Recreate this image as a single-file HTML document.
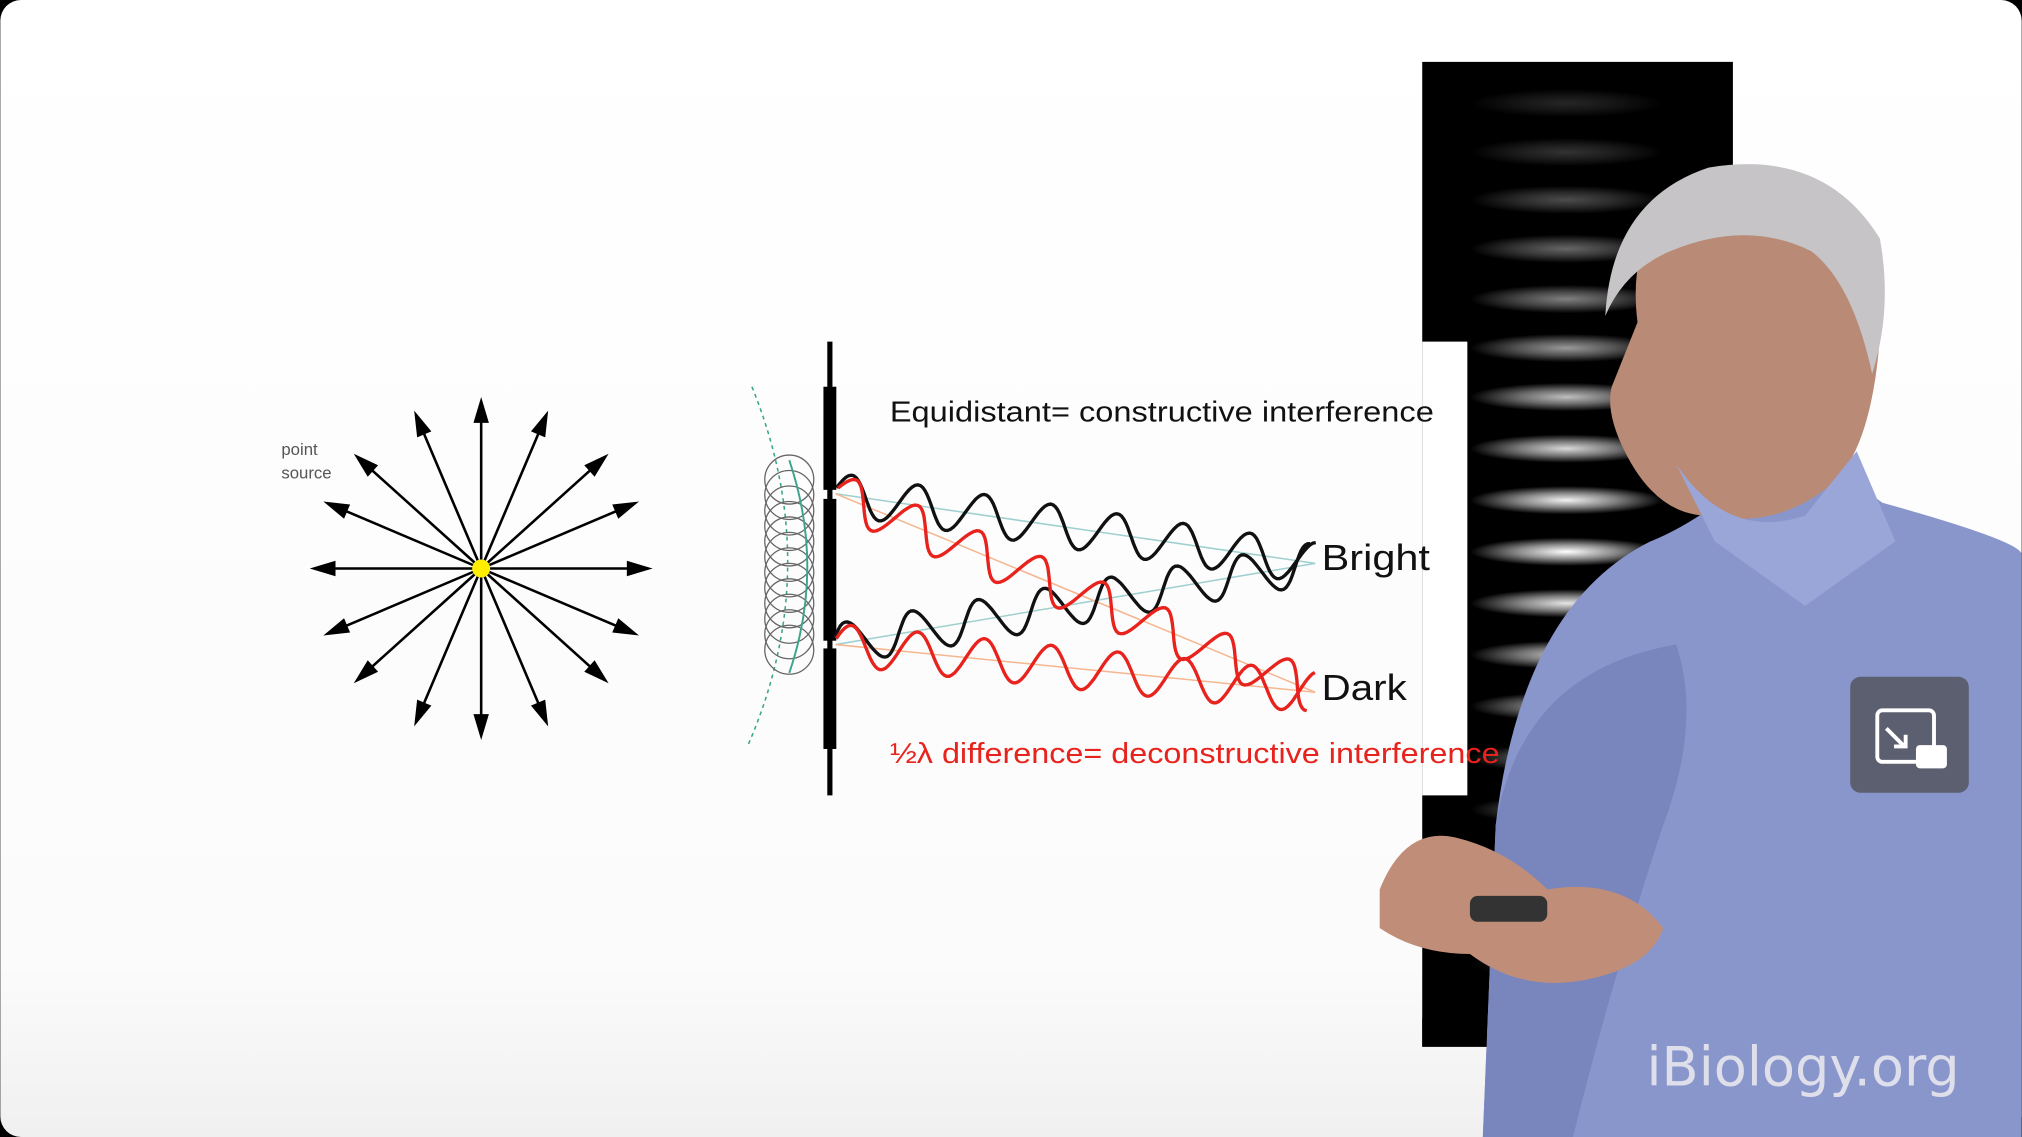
<!DOCTYPE html>
<html><head><meta charset="utf-8">
<style>
html,body{margin:0;padding:0;background:#000;}
svg{display:block;}
</style></head>
<body>
<svg id="scene" width="2022" height="1137" viewBox="0 0 1568 882" xmlns="http://www.w3.org/2000/svg">
<defs>
<radialGradient id="fr" cx="0.5" cy="0.5" r="0.5">
<stop offset="0" stop-color="#fff" stop-opacity="1"/>
<stop offset="0.5" stop-color="#fff" stop-opacity="0.55"/>
<stop offset="1" stop-color="#fff" stop-opacity="0"/>
</radialGradient>
<linearGradient id="bg" x1="0" y1="0" x2="0" y2="1">
<stop offset="0" stop-color="#ffffff"/><stop offset="0.85" stop-color="#fbfbfb"/><stop offset="1" stop-color="#f0f0f0"/>
</linearGradient>
</defs>
<rect x="0" y="0" width="1568" height="882" rx="16" fill="url(#bg)"/>

<g>
<rect x="1103" y="48" width="241" height="764" fill="#000"/>
<g id="fringes"></g>
</g>
<rect x="1103" y="265" width="35" height="352" fill="#fff"/>

<g id="star"></g>
<text x="218" y="353" font-family="Liberation Sans, sans-serif" font-size="13" fill="#555">point</text>
<text x="218" y="371" font-family="Liberation Sans, sans-serif" font-size="13" fill="#555">source</text>

<g>
<path d="M583,300 Q640,440 580,578" fill="none" stroke="#3aa58a" stroke-width="1.2" stroke-dasharray="3,3"/>
<g id="circles" fill="none" stroke="#666" stroke-width="1"></g>
<path d="M612,357 Q640,440 612,522" fill="none" stroke="#3aa58a" stroke-width="1.5"/>
<rect x="641.5" y="265" width="4" height="352" fill="#000"/>
<rect x="638.5" y="300" width="10" height="80" fill="#000"/>
<rect x="638.5" y="387" width="10" height="110" fill="#000"/>
<rect x="638.5" y="503" width="10" height="78" fill="#000"/>
<line x1="648" y1="383" x2="1020" y2="437" stroke="#9fd0cf" stroke-width="1.2"/>
<line x1="648" y1="500" x2="1020" y2="437" stroke="#9fd0cf" stroke-width="1.2"/>
<line x1="648" y1="383" x2="1020" y2="537" stroke="#f6b690" stroke-width="1.2"/>
<line x1="648" y1="500" x2="1020" y2="537" stroke="#f6b690" stroke-width="1.2"/>
<g id="waves"></g>
</g>
<text x="690" y="327" textLength="422" lengthAdjust="spacingAndGlyphs" font-family="Liberation Sans, sans-serif" font-size="22" fill="#111">Equidistant= constructive interference</text>
<text x="1025" y="442" textLength="84" lengthAdjust="spacingAndGlyphs" font-family="Liberation Sans, sans-serif" font-size="28" fill="#111">Bright</text>
<text x="1025" y="543" textLength="66" lengthAdjust="spacingAndGlyphs" font-family="Liberation Sans, sans-serif" font-size="28" fill="#111">Dark</text>
<text x="690" y="592" textLength="473" lengthAdjust="spacingAndGlyphs" font-family="Liberation Sans, sans-serif" font-size="22" fill="#e8221c">½λ difference= deconstructive interference</text>

<g>
<path d="M1150,882 L1160,640 Q1180,470 1280,420 Q1330,400 1390,340 L1460,390 Q1568,420 1568,430 L1568,882 Z" fill="#8996cc"/>
<path d="M1300,500 Q1320,560 1290,640 Q1250,760 1220,882 L1150,882 L1160,640 Q1180,520 1300,500Z" fill="#7985bd"/>
<path d="M1270,250 Q1260,170 1320,140 Q1400,120 1445,170 Q1465,220 1455,290 Q1445,360 1415,380 Q1375,410 1325,400 Q1285,400 1260,350 Q1245,320 1250,300 Z" fill="#b98a76"/>
<path d="M1245,245 Q1250,155 1325,130 Q1415,115 1458,185 Q1468,240 1452,290 Q1437,220 1405,195 Q1355,170 1295,195 Q1260,210 1245,245Z" fill="#c6c4c6"/>
<path d="M1300,360 Q1340,420 1400,400 L1440,350 L1470,420 L1400,470 L1330,420Z" fill="#9aa6d8"/>
<path d="M1070,690 Q1090,640 1130,650 Q1170,660 1200,690 Q1260,680 1290,720 Q1280,750 1230,760 Q1180,770 1140,740 Q1100,740 1070,720Z" fill="#c08e78"/>
<rect x="1140" y="695" width="60" height="20" rx="6" fill="#333"/>
</g>
<rect x="1103" y="790" width="50" height="22" fill="#000"/>

<g>
<rect x="1435" y="525" width="92" height="90" rx="8" fill="#55565e" opacity="0.85"/>
<rect x="1456" y="551" width="44" height="40" rx="4" fill="none" stroke="#fff" stroke-width="3"/>
<rect x="1486" y="578" width="24" height="18" rx="3" fill="#fff"/>
<line x1="1463" y1="565" x2="1476" y2="578" stroke="#fff" stroke-width="3"/>
<path d="M1469,579 L1478,579 L1478,570" fill="none" stroke="#fff" stroke-width="3"/>
</g>
<text x="1277" y="842" font-family="DejaVu Sans, sans-serif" font-size="42" fill="#e8e8ee" opacity="0.9">iBiology.org</text>
</svg>
<script>
const NS="http://www.w3.org/2000/svg";
const arrowAngles=[0,23,42,67,90,113,138,157,180,203,222,247,270,293,318,337];
const fringeRows=[80,118,155,193,232,270,308,348,388,428,468,508,548,588,628,668,708,748];
const fringeIntensity=[0.15,0.2,0.3,0.4,0.5,0.6,0.75,0.85,0.95,1,0.9,0.8,0.7,0.55,0.45,0.35,0.25,0.15];
const circleRows=[372,384,396,408,420,432,444,456,468,480,492,504];

const star=document.getElementById('star');
const cx=373,cy=441,L=133;
arrowAngles.forEach(a=>{
 const r=a*Math.PI/180, ex=cx+L*Math.cos(r), ey=cy-L*Math.sin(r);
 const ln=document.createElementNS(NS,'line');
 ln.setAttribute('x1',cx);ln.setAttribute('y1',cy);
 ln.setAttribute('x2',cx+(L-14)*Math.cos(r));ln.setAttribute('y2',cy-(L-14)*Math.sin(r));
 ln.setAttribute('stroke','#000');ln.setAttribute('stroke-width','2');
 
 
 star.appendChild(ln);
 const px=-Math.sin(r),py=-Math.cos(r);
 const bx=cx+(L-20)*Math.cos(r),by=cy-(L-20)*Math.sin(r);
 const p=document.createElementNS(NS,'polygon');
 p.setAttribute('points',`${ex},${ey} ${bx+6*px},${by+6*py} ${bx-6*px},${by-6*py}`);
 p.setAttribute('fill','#000');
 
 
 star.appendChild(p);
});
const dot=document.createElementNS(NS,'circle');
dot.setAttribute('cx',cx);dot.setAttribute('cy',cy);dot.setAttribute('r',7);dot.setAttribute('fill','#ffee00');


star.appendChild(dot);

const fr=document.getElementById('fringes');
fringeRows.forEach((y,i)=>{
 const e=document.createElementNS(NS,'ellipse');
 e.setAttribute('cx',1215);e.setAttribute('cy',y);e.setAttribute('rx',75);e.setAttribute('ry',11);
 e.setAttribute('fill','url(#fr)');e.setAttribute('opacity',fringeIntensity[i]);
 
 
 fr.appendChild(e);
});

const cg=document.getElementById('circles');
circleRows.forEach(y=>{
 const c=document.createElementNS(NS,'circle');
 c.setAttribute('cx',612);c.setAttribute('cy',y);c.setAttribute('r',19);
 
 
 cg.appendChild(c);
});

function wave(x0,y0,x1,y1,phase,color,name){
 const dx=x1-x0,dy=y1-y0,len=Math.hypot(dx,dy),ux=dx/len,uy=dy/len,nx=-uy,ny=ux;
 let d='';
 for(let s=0;s<=len;s+=2){
  const off=-16*Math.sin(2*Math.PI*s/52+phase);
  const x=x0+ux*s+nx*off,y=y0+uy*s+ny*off;
  d+=(s?'L':'M')+x.toFixed(1)+','+y.toFixed(1);
 }
 const p=document.createElementNS(NS,'path');
 p.setAttribute('d',d);p.setAttribute('fill','none');p.setAttribute('stroke',color);p.setAttribute('stroke-width','2.6');
 
 
 document.getElementById('waves').appendChild(p);
}
wave(648,383,1020,437,0.3,'#111','bright-wave-top');
wave(648,500,1020,437,0.3,'#111','bright-wave-bottom');
wave(648,383,1020,537,0.3,'#e8221c','dark-wave-top');
wave(648,500,1020,537,0.3,'#e8221c','dark-wave-bottom');
</script>
</body></html>
